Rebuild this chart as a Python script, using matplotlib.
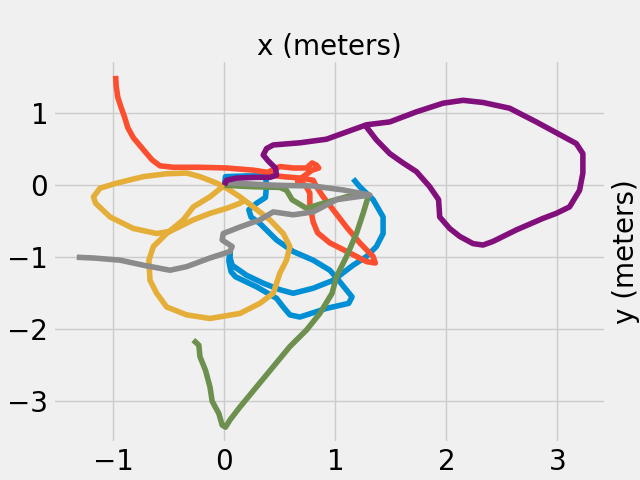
import matplotlib
matplotlib.use('Agg')
from matplotlib import pyplot as plt

plt.style.use('fivethirtyeight')

# paths, in meters
blue_x = [0.0, 0.01, 0.2, 0.37, 0.38, 0.37, 0.29, 0.22, 0.24, 0.32, 0.47, 0.62, 0.80, 0.95, 1.04, 1.15,
          1.12, 0.92, 0.68, 0.59, 0.53, 0.47, 0.29, 0.10, 0.06, 0.04, 0.05, 0.05, 0.07, 0.20, 0.35, 0.50,
          0.62, 0.80, 0.98, 1.16, 1.28, 1.37, 1.43, 1.43, 1.34, 1.22, 1.16]
blue_y = [0.0, 0.12, 0.13, 0.13, 0.0, -0.17, -0.25, -0.34, -0.44, -0.53, -0.76, -0.92, -1.04, -1.18, -1.34, -1.55,
          -1.64, -1.71, -1.83, -1.80, -1.69, -1.57, -1.41, -1.27, -1.2, -1.05, -0.92, -1.0, -1.11, -1.25, -1.36, -1.45,
          -1.50, -1.43, -1.32, -1.11, -0.99, -0.85, -0.67, -0.44, -0.20, -0.02, 0.09]

red_x = [-0.98, -0.975, -0.96, -0.93, -0.90, -0.87, -0.82, -0.76, -0.70, -0.65, -0.58, -0.46, -0.22, 0.02, 0.26,
         0.39, 0.50, 0.62, 0.74, 0.79, 0.83, 0.85, 0.79, 0.71, 0.66, 0.73, 0.77, 0.77, 0.80, 0.84, 0.95, 1.13,
         1.28, 1.36, 1.34, 1.22, 1.10, 0.98, 0.89, 0.83, 0.80, 0.68, 0.53, 0.41, 0.39]
red_y = [1.52, 1.38, 1.22, 1.08, 0.95, 0.80, 0.66, 0.55, 0.44, 0.35, 0.27, 0.25, 0.25, 0.24, 0.21,
         0.18, 0.26, 0.24, 0.24, 0.31, 0.28, 0.24, 0.21, 0.12, 0.05, 0.0, -0.11, -0.27, -0.51, -0.66, -0.80, -0.94,
         -1.06, -1.08, -0.99, -0.80, -0.58, -0.34, -0.16, -0.02, 0.07, 0.10, 0.12, 0.14, 0.16]

yellow_x = [0.0, -0.13, -0.28, -0.37, -0.52, -0.64, -0.68, -0.67, -0.61, -0.52, -0.34, -0.13, 0.14, 0.32,
            0.44, 0.50, 0.56, 0.59, 0.53, 0.41, 0.26, 0.14, 0.02, -0.07, -0.22, -0.34, -0.52, -0.73, -0.97,
            -1.12, -1.18, -1.16, -1.03, -0.82, -0.61, -0.49, -0.28, -0.13, 0.02, 0.14, 0.19]
yellow_y = [0.0, -0.16, -0.30, -0.48, -0.67, -0.85, -1.04, -1.32, -1.50, -1.69, -1.80, -1.85, -1.78, -1.64,
            -1.50, -1.22, -1.04, -0.85, -0.67, -0.48, -0.30, -0.16, -0.04, 0.03, 0.12, 0.17, 0.16, 0.12, 0.03,
            -0.04, -0.16, -0.25, -0.44, -0.60, -0.67, -0.64, -0.48, -0.39, -0.32, -0.25, -0.20]

green_x = [0.0, 0.25, 0.5, 0.56, 0.61, 0.74, 0.89, 1.10, 1.30, 1.25, 1.19, 1.10, 1.01, 0.97, 0.86, 0.74,
           0.59, 0.44, 0.29, 0.14, 0.05, 0.01, -0.02, -0.05, -0.11, -0.13, -0.17, -0.22, -0.23, -0.28]
green_y = [0.0, -0.02, -0.03, -0.07, -0.20, -0.32, -0.25, -0.16, -0.135, -0.39, -0.67, -0.99, -1.27, -1.50, -1.78, -2.01,
           -2.24, -2.52, -2.80, -3.08, -3.26, -3.36, -3.33, -3.17, -3.0, -2.80, -2.57, -2.38, -2.22, -2.15]

gray_x = [0.0, 0.08, 0.47, 0.80, 1.07, 1.31, 1.01, 0.80, 0.62, 0.44, 0.32, 0.14, -0.01, -0.02, 0.07,
          0.05, -0.13, -0.34, -0.49, -0.73, -0.94, -1.18, -1.33]
gray_y = [0.04, 0.03, 0.0, -0.01, -0.065, -0.135, -0.20, -0.37, -0.41, -0.37, -0.48, -0.58, -0.67, -0.76, -0.85,
          -0.92, -1.01, -1.13, -1.18, -1.11, -1.04, -1.01, -1.0]

purple_x = [0.0, 0.02, 0.11, 0.29, 0.41, 0.47, 0.46, 0.40, 0.35, 0.38, 0.44, 0.68, 0.92, 1.10, 1.28, 1.49,
            1.73, 1.97, 2.15, 2.33, 2.57, 2.81, 3.05, 3.17, 3.23, 3.23, 3.20, 3.11, 2.99, 2.87, 2.63, 2.42,
            2.33, 2.24, 2.12, 2.03, 1.94, 1.93, 1.85, 1.73, 1.61, 1.49, 1.37, 1.28]
purple_y = [0.0, 0.07, 0.10, 0.11, 0.11, 0.14, 0.24, 0.33, 0.42, 0.51, 0.56, 0.59, 0.64, 0.74, 0.84, 0.88,
            1.02, 1.14, 1.18, 1.15, 1.07, 0.88, 0.68, 0.58, 0.44, 0.17, -0.07, -0.30, -0.39, -0.46, -0.62, -0.78,
            -0.83, -0.81, -0.71, -0.60, -0.44, -0.20, -0.02, 0.19, 0.31, 0.44, 0.63, 0.81]

paths = [(blue_x, blue_y), (red_x, red_y), (yellow_x, yellow_y),
         (green_x, green_y), (gray_x, gray_y), (purple_x, purple_y)]

fig, ax = plt.subplots(figsize=(6.4, 4.8), dpi=100)
fig.subplots_adjust(left=0.083, right=0.947, bottom=0.077, top=0.875)

for xs, ys in paths:
    ax.plot(xs, ys, solid_joinstyle='round')

ax.set_xlim(-1.543, 3.439)
ax.set_ylim(-3.58, 1.74)
ax.tick_params(labelsize=20)

ax.xaxis.set_label_position('top')
ax.yaxis.set_label_position('right')
ax.set_xlabel('x (meters)', fontsize=20)
ax.set_ylabel('y (meters)', fontsize=20)

fig.savefig('out.png', dpi=100, facecolor=fig.get_facecolor())
